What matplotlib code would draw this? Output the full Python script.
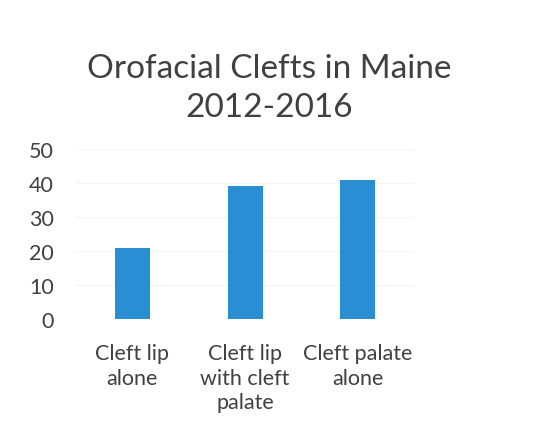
import matplotlib
matplotlib.use("Agg")
import matplotlib.pyplot as plt
import numpy as np

categories = ["Cleft lip\nalone", "Cleft lip\nwith cleft\npalate", "Cleft palate\nalone"]
values = [21, 39, 41]
yticks = [0, 10, 20, 30, 40, 50]

plt.rcParams['font.family'] = ['Lato', 'DejaVu Sans']

fig = plt.figure(figsize=(5.5, 4.35), dpi=100)
ax = fig.add_axes([0.138, 0.264, 0.615, 0.391])

x = np.arange(len(categories))
ax.bar(x, values, width=0.31, color='#2a8fd2', zorder=2)

ax.set_xlim(-0.5, len(categories) - 0.5)
ax.set_ylim(0, 50)
ax.set_yticks(yticks)
ax.set_xticks(x)
ax.set_xticklabels(categories, fontsize=15.5, color='#404040', linespacing=1.3)
ax.tick_params(axis='y', labelsize=15.5, labelcolor='#404040', length=0, pad=16)
ax.tick_params(axis='x', length=0, pad=17)
ax.grid(axis='y', color='#f5f5f5', linewidth=0.8, zorder=0)
for s in ax.spines.values():
    s.set_visible(False)

fig.text(0.49, 0.797, "Orofacial Clefts in Maine\n2012-2016", ha='center', va='center',
         fontsize=24, color='#404040', linespacing=1.38)

fig.savefig("out.png", dpi=100)
